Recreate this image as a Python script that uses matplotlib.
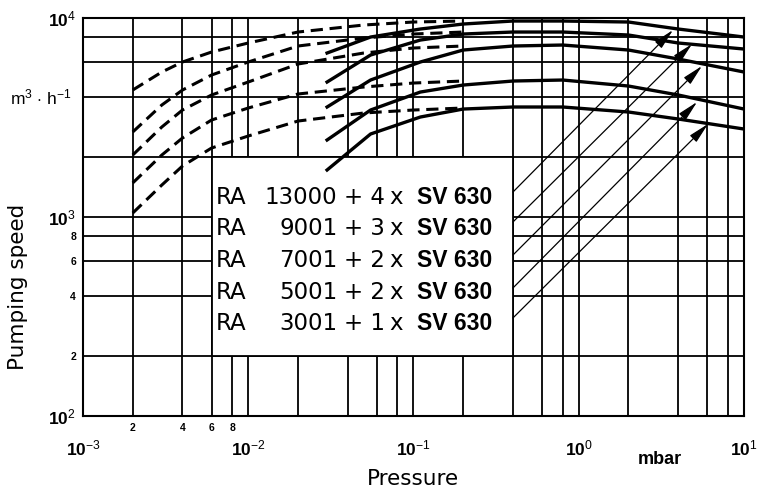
import matplotlib
matplotlib.use('Agg')
import matplotlib.pyplot as plt
from matplotlib.patches import Rectangle
from matplotlib.ticker import FixedLocator, FixedFormatter

plt.rcParams['font.family'] = ['Liberation Sans', 'DejaVu Sans']
plt.rcParams['mathtext.fontset'] = 'custom'
plt.rcParams['mathtext.rm'] = 'Liberation Sans'
plt.rcParams['mathtext.bf'] = 'Liberation Sans:bold'
plt.rcParams['mathtext.it'] = 'Liberation Sans:italic'

# pressure points (mbar) for the dashed (low pressure) part
x_dash = [0.002, 0.003, 0.004, 0.006, 0.01, 0.02, 0.05, 0.1, 0.2]
dash_13000 = [4346, 5354, 6011, 6747, 7489, 8504, 9222, 9548, 9659]
dash_9001 = [2674, 3655, 4346, 5171, 6011, 7233, 7933, 8310, 8504]
dash_7001 = [2049, 2834, 3449, 4104, 4768, 5873, 6670, 7068, 7233]
dash_5001 = [1483, 2049, 2495, 3072, 3530, 4151, 4500, 4713, 4824]
dash_3001 = [1047, 1448, 1804, 2222, 2553, 3036, 3332, 3449, 3530]

# solid part
x_solid = [0.03, 0.055, 0.11, 0.2, 0.4, 0.8, 2, 4, 10]
solid_13000 = [6670, 8025, 8805, 9329, 9659, 9659, 9548, 8805, 8025]
solid_9001 = [4768, 6517, 7750, 8310, 8504, 8504, 8214, 7489, 6985]
solid_7001 = [3571, 4880, 6011, 6905, 7233, 7316, 6905, 6223, 5354]
solid_5001 = [2438, 3449, 4246, 4605, 4824, 4880, 4552, 4104, 3488]
solid_3001 = [1723, 2613, 3180, 3488, 3571, 3571, 3370, 3108, 2768]

pumps = ['13000', '9001', '7001', '5001', '3001']
boosters = ['4', '3', '2', '2', '1']

# arrows: from label to curve
arrow_x0 = 0.4
arrow_y0 = [1335, 944, 644, 440, 311]
arrow_x1 = [3.72, 4.85, 5.57, 5.20, 6.06]
arrow_y1 = [8702, 7402, 5740, 3784, 2934]

x_major = [1e-3, 1e-2, 1e-1, 1e0, 1e1]
x_major_lbl = [r'$\mathbf{10}^{-3}$', r'$\mathbf{10}^{-2}$', r'$\mathbf{10}^{-1}$',
               r'$\mathbf{10}^{0}$', r'$\mathbf{10}^{1}$']
y_major = [1e2, 1e3, 1e4]
y_major_lbl = [r'$\mathbf{10}^{2}$', r'$\mathbf{10}^{3}$', r'$\mathbf{10}^{4}$']

x_minor = [m * d for d in [1e-3, 1e-2, 1e-1, 1e0] for m in (2, 4, 6, 8)]
x_minor_lbl = ['2', '4', '6', '8'] + [''] * 12
y_minor = [m * d for d in [1e2, 1e3] for m in (2, 4, 6, 8)]
y_minor_lbl = ['2', '4', '6', '8'] + [''] * 4

fig = plt.figure(figsize=(7.6, 4.95), dpi=100)
ax = fig.add_axes([0.1092, 0.1596, 0.8697, 0.804])
ax.set_xscale('log')
ax.set_yscale('log')
ax.set_xlim(1e-3, 1e1)
ax.set_ylim(1e2, 1e4)

ax.xaxis.set_major_locator(FixedLocator(x_major))
ax.xaxis.set_major_formatter(FixedFormatter(x_major_lbl))
ax.xaxis.set_minor_locator(FixedLocator(x_minor))
ax.xaxis.set_minor_formatter(FixedFormatter(x_minor_lbl))
ax.yaxis.set_major_locator(FixedLocator(y_major))
ax.yaxis.set_major_formatter(FixedFormatter(y_major_lbl))
ax.yaxis.set_minor_locator(FixedLocator(y_minor))
ax.yaxis.set_minor_formatter(FixedFormatter(y_minor_lbl))

ax.tick_params(which='both', length=0)
ax.tick_params(axis='x', which='major', pad=16, labelsize=12.5)
ax.tick_params(axis='x', which='minor', pad=5, labelsize=7.5)
ax.tick_params(axis='y', which='major', pad=5, labelsize=12.5)
ax.tick_params(axis='y', which='minor', pad=5, labelsize=7.5)
for lbl in ax.xaxis.get_minorticklabels() + ax.yaxis.get_minorticklabels():
    lbl.set_fontweight('bold')

ax.set_axisbelow(True)
ax.grid(which='both', color='black', lw=1.3)
for s in ax.spines.values():
    s.set_linewidth(1.5)

# white label box cut out of the grid
ax.add_patch(Rectangle((0.006, 200), 0.4 - 0.006, 2000 - 200, facecolor='white',
                       edgecolor='black', lw=1.3, zorder=1))

for ys in [dash_13000, dash_9001, dash_7001, dash_5001, dash_3001]:
    ax.plot(x_dash, ys, color='black', lw=2.2, dashes=(4, 2.2), zorder=2)
for ys in [solid_13000, solid_9001, solid_7001, solid_5001, solid_3001]:
    ax.plot(x_solid, ys, color='black', lw=2.4, zorder=2)

for i in range(5):
    ax.annotate('', xy=(arrow_x1[i], arrow_y1[i]), xytext=(arrow_x0, arrow_y0[i]),
                arrowprops=dict(arrowstyle='-|>,head_length=0.9,head_width=0.2',
                                color='black', lw=0.9, shrinkA=0, shrinkB=0,
                                mutation_scale=14), zorder=3)

# label rows
wide = ['DejaVu Sans']
row_y = [0.550, 0.470, 0.390, 0.310, 0.232]
for i in range(5):
    ax.text(0.201, row_y[i], 'RA', transform=ax.transAxes, fontsize=16.5, family=wide,
            va='center', ha='left', zorder=4)
    ax.text(0.385, row_y[i], pumps[i], transform=ax.transAxes, fontsize=16.5, family=wide,
            va='center', ha='right', zorder=4)
    ax.text(0.395, row_y[i], '+ ' + boosters[i], transform=ax.transAxes,
            fontsize=16.5, family=wide, va='center', ha='left', zorder=4)
    ax.text(0.464, row_y[i], 'x', transform=ax.transAxes,
            fontsize=16.5, family=wide, va='center', ha='left', zorder=4)
    ax.text(0.505, row_y[i], 'SV 630', transform=ax.transAxes, fontsize=16.5,
            fontweight='bold', va='center', ha='left', zorder=4)

fig.text(18 / 760, 1 - 287 / 495, 'Pumping speed', rotation=90, fontsize=15.5,
         family=wide, ha='center', va='center')
fig.text(10 / 760, 1 - 97 / 495, r'm$^3$ $\cdot$ h$^{-1}$', fontsize=12.5,
         ha='left', va='center')
fig.text(413 / 760, 1 - 479 / 495, 'Pressure', fontsize=15.5, family=wide,
         ha='center', va='center')
fig.text(660 / 760, 1 - 460 / 495, 'mbar', fontsize=13, fontweight='bold',
         ha='center', va='center')

fig.savefig('out.png', dpi=100)
